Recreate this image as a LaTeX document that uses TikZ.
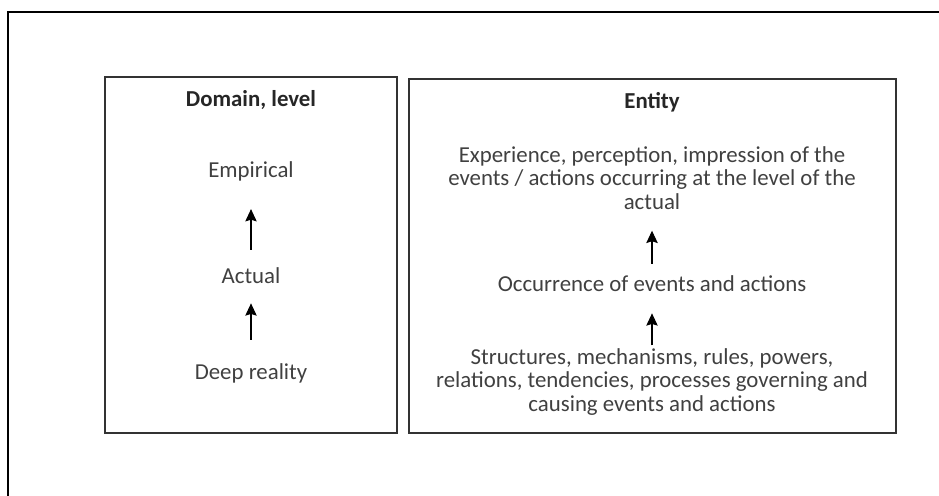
\documentclass[tikz,border=0pt]{standalone}
\usepackage{fontspec}
\setmainfont{Carlito}
\usetikzlibrary{arrows.meta}

\definecolor{txtgray}{HTML}{404040}
\definecolor{framegray}{HTML}{333333}

\tikzset{
    frame/.style={draw=framegray, line width=0.6pt},
    head/.style={inner sep=0pt, text=black!85, font=\bfseries\fontsize{13}{13.3}\selectfont},
    lvl/.style={inner sep=0pt, text=txtgray, align=center, font=\fontsize{13}{13.3}\selectfont},
    up/.style={-{Stealth[length=7pt,width=6.5pt,inset=1pt]}, line width=0.6pt},
}

\begin{document}
\begin{tikzpicture}[x=0.02cm, y=-0.02cm]
    \useasboundingbox (0,0) rectangle (939,496);
    % outer frame (only top and left edges are visible)
    \draw[line width=0.9pt] (8,510) -- (8,12) -- (950,12);

    % left box: domains
    \draw[frame] (105,77) rectangle (397,433);
    \node[head] (domain) at (251,100) {Domain, level};
    \node[lvl] (empirical) at (251,171) {Empirical};
    \node[lvl] (actual) at (251,276) {Actual};
    \node[lvl] (deep) at (251,373) {Deep reality};
    \draw[up, shorten <=18pt*0.569, shorten >=28pt*0.569] (actual) -- (empirical);
    \draw[up, shorten <=23pt*0.569, shorten >=19pt*0.569] (deep) -- (actual);

    % right box: entities
    \draw[frame] (409,79) rectangle (896,433);
    \node[head] (entity) at (652,102) {Entity};
    \node[lvl] (experience) at (652,178) {Experience, perception, impression of the\\
        events / actions occurring at the level of the\\ actual};
    \node[lvl] (occurrence) at (652,284) {Occurrence of events and actions};
    \node[lvl] (structures) at (652,382) {Structures, mechanisms, rules, powers,\\
        relations, tendencies, processes governing and\\ causing events and actions};
    \draw[up, shorten <=12pt*0.569, shorten >=21pt*0.569] (occurrence) -- (experience);
    \draw[up, shorten <=3pt*0.569, shorten >=21pt*0.569] (structures) -- (occurrence);
\end{tikzpicture}
\end{document}
